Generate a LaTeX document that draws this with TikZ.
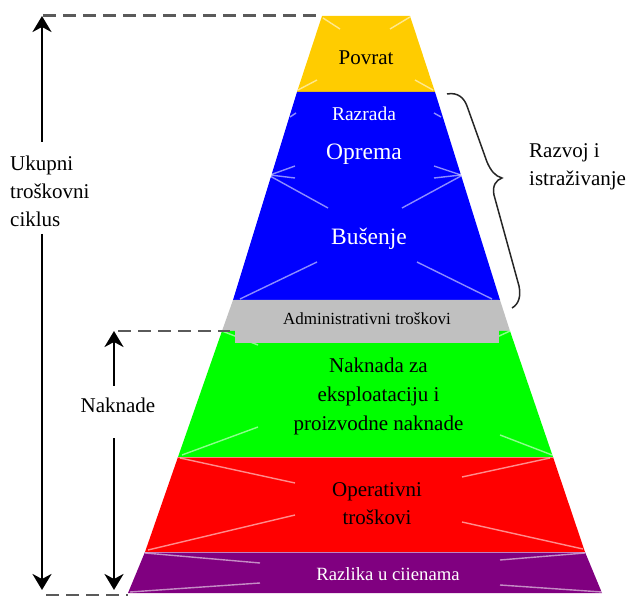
\documentclass[tikz,border=0pt]{standalone}
\usepackage{fontspec}
\setmainfont{Liberation Serif}
\usetikzlibrary{arrows.meta,calc}
\definecolor{pyyellow}{HTML}{FFCC00}
\definecolor{pyblue}{HTML}{0000FF}
\definecolor{pygrey}{HTML}{C0C0C0}
\definecolor{pygreen}{HTML}{00FF00}
\definecolor{pyred}{HTML}{FF0000}
\definecolor{pypurple}{HTML}{800080}
\definecolor{dashgray}{HTML}{5A5A5A}
\begin{document}
\begin{tikzpicture}[x=1pt,y=-1pt,
  bevel/.style={white,opacity=0.55,line width=1.4pt},
  dashline/.style={draw=dashgray,line width=2.6pt,dash pattern=on 13pt off 7pt},
  bigarrow/.style={line width=2.8pt,-{Stealth[length=16pt,width=19pt,inset=5pt]}},
  lbl/.style={inner sep=0pt,font=\fontsize{21}{28}\selectfont}]
\useasboundingbox (0,0) rectangle (630,596);
% layers
\fill[pyyellow] (322,16) -- (410,16) -- (435,92) -- (297,92) -- cycle;
\fill[pyblue] (297,92) -- (435,92) -- (500,300) -- (233,300) -- cycle;
\fill[pygrey] (233,300) -- (500,300) -- (510,331) -- (222,331) -- cycle;
\fill[pygreen] (222,331) -- (510,331) -- (553,457) -- (178,457) -- cycle;
\fill[pyred] (178,457) -- (553,457) -- (585,552) -- (145,552) -- cycle;
\fill[pypurple] (145,552) -- (585,552) -- (602,593) -- (128,593) -- cycle;
% bevel lines
\draw[bevel] (323,18) -- (340,29);
\draw[bevel] (410,17) -- (390,29);
\draw[bevel] (298,90) -- (317,80);
\draw[bevel] (433,90) -- (415,80);
\draw[bevel] (290,117) -- (296,113);
\draw[bevel] (441,117) -- (434,113);
\draw[bevel] (270,175) -- (295,166);
\draw[bevel] (270,175) -- (295,178);
\draw[bevel] (270,176) -- (328,208);
\draw[bevel] (461,175) -- (434,166);
\draw[bevel] (461,175) -- (434,178);
\draw[bevel] (461,176) -- (402,208);
\draw[bevel] (240,299) -- (317,262);
\draw[bevel] (492,299) -- (417,262);
\draw[bevel] (222,331) -- (258,345);
\draw[bevel] (510,331) -- (497,337);
\draw[bevel] (182,455) -- (258,427);
\draw[bevel] (552,455) -- (500,435);
\draw[bevel] (180,458) -- (295,483);
\draw[bevel] (148,550) -- (295,515);
\draw[bevel] (550,458) -- (462,477);
\draw[bevel] (583,549) -- (462,522);
\draw[bevel] (145,553) -- (260,563);
\draw[bevel] (130,592) -- (260,583);
\draw[bevel] (585,553) -- (500,560);
\draw[bevel] (602,592) -- (500,585);
\draw[white,opacity=0.5,line width=1pt] (178,457) -- (553,457);
\draw[white,opacity=0.5,line width=1pt] (145,552) -- (585,552);
% grey label box
\fill[pygrey] (235,300) rectangle (499,343);
% texts
\node[lbl,anchor=base] (povrat) at (366,65) {Povrat};
\node[lbl,anchor=base,text=white,font=\fontsize{19.5}{24}\selectfont] (razrada) at (364,121) {Razrada};
\node[lbl,anchor=base,text=white,font=\fontsize{23.5}{28}\selectfont] (oprema) at (364,160) {Oprema};
\node[lbl,anchor=base,text=white,font=\fontsize{23.5}{28}\selectfont] (busenje) at (369,245) {Bušenje};
\node[lbl,anchor=base,font=\fontsize{17}{20}\selectfont] (admin) at (367,325) {Administrativni troškovi};
\node[lbl,align=center,font=\fontsize{21}{29}\selectfont] (naknada) at (378.5,396) {Naknada za\\eksploataciju i\\proizvodne naknade};
\node[lbl,align=center] (oper) at (377,504) {Operativni\\troškovi};
\node[lbl,anchor=base,text=white,font=\fontsize{18.7}{22}\selectfont] (razlika) at (388,580) {Razlika u ciienama};
\node[lbl,align=left,anchor=west] (razvoj) at (529,167) {Razvoj i\\istraživanje};
\node[lbl,align=left,anchor=west] (ukupni) at (10,191) {Ukupni\\troškovni\\ciklus};
\node[lbl,anchor=base] (naknade) at (118,413) {Naknade};
% coordinates
\coordinate (ua) at (42,16);
\coordinate (ub) at (42,142);
\coordinate (uc) at (42,234);
\coordinate (ud) at (42,590);
\coordinate (na) at (114,331);
\coordinate (nb) at (114,386);
\coordinate (nc) at (114,438);
\coordinate (nd) at (114,590);
\coordinate (dt1) at (43,15.5);
\coordinate (dt2) at (322,15.5);
\coordinate (dm1) at (118,331);
\coordinate (dm2) at (230,331);
\coordinate (db1) at (46,595);
\coordinate (db2) at (128,595);
% dashed guides
\draw[dashline] (dt1) -- (dt2);
\draw[dashline] (dm1) -- (dm2);
\draw[dashline] (db1) -- (db2);
% arrows
\draw[bigarrow] (ub) -- (ua);
\draw[bigarrow] (uc) -- (ud);
\draw[bigarrow] (nb) -- (na);
\draw[bigarrow] (nc) -- (nd);
% brace
\draw[line width=1.5pt,black!85] (447,94) .. controls (458,92) and (464,98) .. (467,106)
  -- (487,162) .. controls (491,171) and (495,176) .. (502,178)
  .. controls (496,180) and (492,186) .. (494,195)
  -- (519,286) .. controls (521,296) and (519,304) .. (512,308);
\end{tikzpicture}
\end{document}
